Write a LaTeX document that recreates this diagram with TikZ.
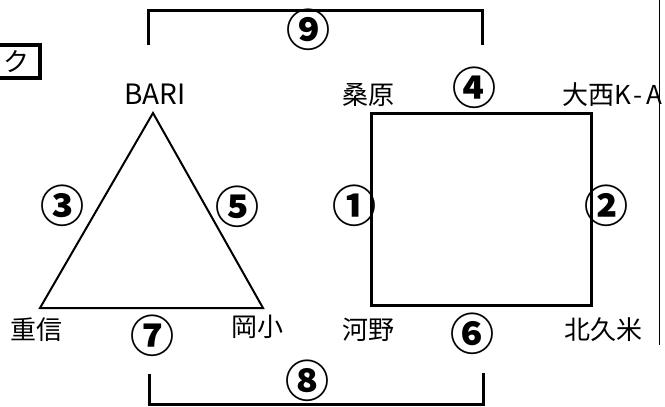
\documentclass[tikz,border=0pt]{standalone}
\usepackage{fontspec}
\setmainfont{Noto Sans CJK JP}
\usepackage{tikz}

\begin{document}
\begin{tikzpicture}[x=1pt,y=-1pt,
	every node/.style={font=\fontsize{26}{26}\selectfont,inner sep=0pt},
	num/.style={font=\fontsize{44}{44}\selectfont\bfseries},
	edge3/.style={line width=2pt},
	edge4/.style={line width=3pt}]
	\useasboundingbox (0,0) rectangle (665,407);
	
	\coordinate (a) at (153,113);
	\coordinate (b) at (40,308);
	\coordinate (c) at (263,308);
	\coordinate (d) at (371,113);
	\coordinate (e) at (591,113);
	\coordinate (f) at (371,305);
	\coordinate (g) at (591,305);
	
	\node[font=\fontsize{28}{28}\selectfont] (ta) at (155,94) {BARI};
	\node (tb) at (36,330)  {重信};
	\node (tc) at (257,327) {岡小};
	\node (td) at (368,95)  {桑原};
	\node[anchor=west] (te) at (562,95) {大西K\kern3pt-\kern3pt A};
	\node (tf) at (368,330) {河野};
	\node (tg) at (603,330) {北久米};
	
	\node[num] (n1) at (354,206) {①};
	\node[num] (n2) at (606,206) {②};
	\node[num] (n3) at (62,206)  {③};
	\node[num] (n4) at (474,88)  {④};
	\node[num] (n5) at (237,207) {⑤};
	\node[num] (n6) at (472,334) {⑥};
	\node[num] (n7) at (152,336) {⑦};
	\node[num] (n8) at (307,381) {⑧};
	\node[num] (n9) at (308,30)  {⑨};
	
	\draw[edge3] (a) -- (b) -- (c) -- cycle;
	\draw[edge4] (d) -- (e) -- (g) -- (f) -- cycle;
	
	\coordinate (p1) at (148,45);
	\coordinate (p2) at (148,10);
	\coordinate (p3) at (482,10);
	\coordinate (p4) at (482,45);
	\draw[edge4] (p1) -- (p2) -- (p3) -- (p4);
	
	\coordinate (q1) at (149,374);
	\coordinate (q2) at (149,404);
	\coordinate (q3) at (483,404);
	\coordinate (q4) at (483,373);
	\draw[edge4] (q1) -- (q2) -- (q3) -- (q4);
	
	\coordinate (r1) at (659,0);
	\coordinate (r2) at (659,345);
	\draw[line width=1pt] (r1) -- (r2);
	
	\draw[line width=4pt] (-10,45) rectangle (40,78);
	\node (k) at (17,62) {ク};
\end{tikzpicture}
\end{document}
